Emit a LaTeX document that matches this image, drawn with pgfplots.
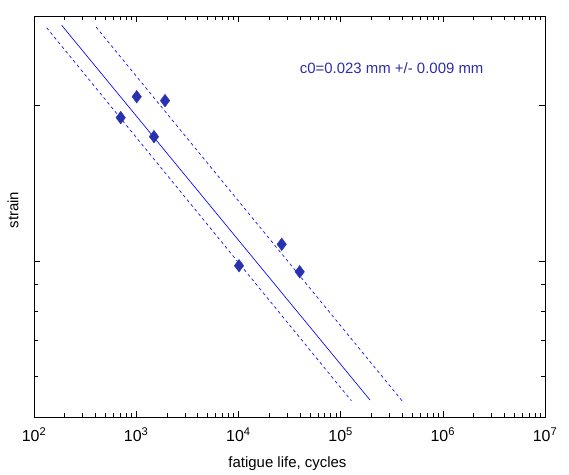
\documentclass[border=0pt]{standalone}
\usepackage{pgfplots}
\pgfplotsset{compat=1.18}
\usepackage{fontspec}
\setmainfont{Liberation Sans}
\definecolor{mk}{RGB}{40,50,175}
\definecolor{txt}{RGB}{45,45,170}
\begin{document}
\begin{tikzpicture}
\begin{axis}[
  name=ax, at={(0,0)}, anchor=south west,
  scale only axis, width=511bp, height=401bp,
  xmode=log, ymode=log,
  xmin=1e2, xmax=1e7, ymin=1e-4, ymax=0.0372,
  xtick={1e2,1e3,1e4,1e5,1e6,1e7},
  xticklabels={10\textsuperscript{2},10\textsuperscript{3},10\textsuperscript{4},10\textsuperscript{5},10\textsuperscript{6},10\textsuperscript{7}},
  ytick={1e-3,1e-2}, yticklabels={},
  minor ytick={1.83e-4,3.12e-4,4.78e-4,7.13e-4},
  major tick length=6bp, minor tick length=4bp,
  every tick/.style={black, line width=0.6bp},
  axis line style={line width=0.8bp},
  tick label style={font=\fontsize{16}{19}\selectfont},
  xticklabel style={yshift=-7bp},
  label style={font=\fontsize{15}{18}\selectfont},
  xlabel={fatigue life, cycles},
  ylabel={strain},
  xlabel style={at={(axis description cs:0.496,-0.117)}, anchor=center},
  ylabel style={at={(axis description cs:-0.041,0.516)}, anchor=center},
  clip=true,
]
\addplot[blue, line width=0.65bp] coordinates {(186.5,0.03245) (194000,1.285e-4)};
\addplot[blue, line width=0.65bp, dash pattern=on 3bp off 3bp] coordinates {(133,0.03129) (127300,1.272e-4)};
\addplot[blue, line width=0.65bp, dash pattern=on 3bp off 3bp] coordinates {(404.6,0.03162) (399000,1.272e-4)};
\addplot[only marks, mark=diamond*, mark size=6.3bp, mark options={fill=mk, draw=mk}] coordinates {
(705,0.00830) (1012,0.01130) (1493,0.00627) (1914,0.01067) (10140,0.000933) (26540,0.00128) (39800,0.000853)};
\node[text=txt, font=\fontsize{15}{18}\selectfont, anchor=center] at (axis cs:3.16e5,0.01718) {c0=0.023 mm +/- 0.009 mm};
\end{axis}
\path[use as bounding box] (-34bp,-52bp) rectangle (535bp,417bp);
\end{tikzpicture}
\end{document}
